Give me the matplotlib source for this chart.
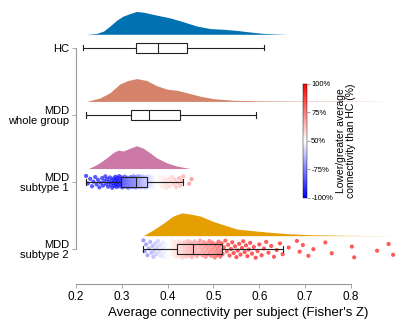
import numpy as np
import matplotlib
matplotlib.use('Agg')
import matplotlib.pyplot as plt
from matplotlib import colors, cm

plt.rcParams['font.family'] = ['Liberation Sans', 'DejaVu Sans']

groups = ['HC', 'MDD\nwhole group', 'MDD\nsubtype 1', 'MDD\nsubtype 2']
group_colors = ['#0072B2', '#D5836A', '#CC79A7', '#E69F00']

# box stats: whisker low, q1, median, q3, whisker high
box_hc = [0.215, 0.331, 0.378, 0.443, 0.610]
box_mdd = [0.222, 0.319, 0.360, 0.427, 0.592]
box_sub1 = [0.222, 0.298, 0.331, 0.356, 0.434]
box_sub2 = [0.347, 0.420, 0.455, 0.518, 0.651]

# density outlines (x, height relative to the peak)
dens_hc_x = [0.223, 0.245, 0.260, 0.274, 0.289, 0.303, 0.318, 0.332, 0.347, 0.376, 0.405,
             0.434, 0.464, 0.493, 0.522, 0.551, 0.580, 0.609, 0.638, 0.663]
dens_hc_y = [0.0, 0.04, 0.14, 0.36, 0.62, 0.80, 0.91, 1.0, 0.97, 0.84, 0.72,
             0.55, 0.36, 0.25, 0.22, 0.17, 0.10, 0.04, 0.015, 0.0]
dens_mdd_x = [0.223, 0.252, 0.274, 0.296, 0.314, 0.332, 0.354, 0.376, 0.398, 0.420, 0.442,
              0.471, 0.500, 0.544, 0.602, 0.700, 0.800, 0.890]
dens_mdd_y = [0.0, 0.15, 0.38, 0.77, 0.92, 1.0, 0.92, 0.69, 0.54, 0.49, 0.38,
              0.23, 0.12, 0.05, 0.025, 0.015, 0.01, 0.0]
dens_sub1_x = [0.227, 0.240, 0.252, 0.267, 0.281, 0.292, 0.303, 0.318, 0.332, 0.347, 0.362,
               0.376, 0.398, 0.420, 0.449]
dens_sub1_y = [0.0, 0.12, 0.26, 0.47, 0.70, 0.81, 0.77, 0.89, 1.0, 0.89, 0.68,
               0.47, 0.25, 0.11, 0.0]
dens_sub2_x = [0.347, 0.369, 0.391, 0.412, 0.431, 0.449, 0.471, 0.500, 0.529, 0.551, 0.580,
               0.616, 0.660, 0.711, 0.798, 0.892]
dens_sub2_y = [0.0, 0.26, 0.55, 0.86, 1.0, 0.95, 0.86, 0.62, 0.43, 0.29, 0.23,
               0.16, 0.09, 0.04, 0.013, 0.0]

# individual subjects (Fisher's Z)
pts_sub1 = [0.222, 0.226, 0.231, 0.235, 0.238, 0.242, 0.245, 0.248, 0.251, 0.254, 0.257, 0.259,
            0.262, 0.264, 0.266, 0.268, 0.270, 0.272, 0.274, 0.276, 0.278, 0.279, 0.281, 0.282,
            0.284, 0.285, 0.286, 0.287, 0.288, 0.289, 0.290, 0.291, 0.292, 0.293, 0.294, 0.295,
            0.296, 0.296, 0.297, 0.298,
            0.299, 0.300, 0.301, 0.302, 0.303, 0.304, 0.305, 0.306, 0.307, 0.308, 0.309, 0.310,
            0.311, 0.312, 0.313, 0.314, 0.315, 0.316, 0.317, 0.318, 0.319, 0.320, 0.321, 0.322,
            0.322, 0.323, 0.324, 0.325, 0.325, 0.326, 0.327, 0.327, 0.328, 0.328, 0.329, 0.329,
            0.330, 0.330, 0.331, 0.331,
            0.332, 0.332, 0.333, 0.333, 0.334, 0.334, 0.335, 0.335, 0.336, 0.337, 0.337, 0.338,
            0.339, 0.339, 0.340, 0.341, 0.341, 0.342, 0.343, 0.343, 0.344, 0.345, 0.345, 0.346,
            0.347, 0.347, 0.348, 0.349, 0.349, 0.350, 0.351, 0.351, 0.352, 0.353, 0.353, 0.354,
            0.355, 0.355, 0.356, 0.356,
            0.357, 0.358, 0.359, 0.360, 0.362, 0.363, 0.364, 0.366, 0.367, 0.369, 0.370, 0.372,
            0.374, 0.375, 0.377, 0.379, 0.381, 0.383, 0.385, 0.387, 0.389, 0.391, 0.393, 0.395,
            0.397, 0.399, 0.402, 0.404, 0.407, 0.410, 0.413, 0.416, 0.419, 0.422, 0.425, 0.428,
            0.431, 0.434, 0.447, 0.452]
pts_sub2 = [0.347, 0.350, 0.353, 0.356, 0.359, 0.362, 0.365, 0.367, 0.369, 0.371, 0.373, 0.375,
            0.377, 0.379, 0.381, 0.383, 0.385, 0.387, 0.389, 0.390, 0.392, 0.393, 0.395, 0.396,
            0.398, 0.399, 0.401, 0.402, 0.403, 0.405, 0.406, 0.407, 0.408, 0.410, 0.411, 0.412,
            0.413, 0.414, 0.415, 0.416, 0.417, 0.418, 0.419, 0.420,
            0.421, 0.422, 0.423, 0.424, 0.425, 0.426, 0.427, 0.428, 0.429, 0.430, 0.431, 0.432,
            0.433, 0.434, 0.435, 0.436, 0.437, 0.438, 0.439, 0.440, 0.441, 0.442, 0.443, 0.444,
            0.445, 0.446, 0.447, 0.448, 0.449, 0.450, 0.451, 0.452, 0.453, 0.454, 0.455,
            0.456, 0.458, 0.459, 0.461, 0.462, 0.464, 0.465, 0.467, 0.468, 0.470, 0.471, 0.473,
            0.474, 0.476, 0.477, 0.479, 0.480, 0.482, 0.483, 0.485, 0.486, 0.488, 0.489, 0.491,
            0.492, 0.494, 0.495, 0.497, 0.498, 0.500, 0.502, 0.503, 0.505, 0.506, 0.508, 0.509,
            0.511, 0.512, 0.514, 0.515, 0.517, 0.518,
            0.520, 0.523, 0.526, 0.529, 0.532, 0.535, 0.538, 0.541, 0.544, 0.547, 0.550, 0.553,
            0.556, 0.559, 0.562, 0.565, 0.568, 0.571, 0.574, 0.577, 0.580, 0.584, 0.588, 0.592,
            0.596, 0.600, 0.605, 0.610, 0.615, 0.620, 0.626, 0.632, 0.638, 0.645, 0.651,
            0.664, 0.682, 0.688, 0.695, 0.707, 0.718, 0.744, 0.758, 0.802, 0.807, 0.857, 0.882,
            0.892]

x_ticks = [0.2, 0.3, 0.4, 0.5, 0.6, 0.7, 0.8]
cbar_ticklabels = ['-100%', '-75%', '50%', '75%', '100%']
xlabel = "Average connectivity per subject (Fisher's Z)"
cbar_label = 'Lower/greater average\nconnectivity than HC (%)'


def main():
    fig = plt.figure(figsize=(4.0, 3.24), dpi=100)
    ax = fig.add_axes([0.19, 0.1235, 0.81, 0.8765])

    boxes = [box_hc, box_mdd, box_sub1, box_sub2]
    dens = [(dens_hc_x, dens_hc_y), (dens_mdd_x, dens_mdd_y),
            (dens_sub1_x, dens_sub1_y), (dens_sub2_x, dens_sub2_y)]

    # clouds
    for k, (dx, dy) in enumerate(dens):
        base = k - 0.2
        ax.fill_between(dx, base, base - 0.34 * np.array(dy), color=group_colors[k],
                        lw=0, zorder=1)

    # rain (colored by lower/greater than HC)
    cmap = plt.get_cmap('bwr')
    for k, pts, center, spread in [(2, pts_sub1, 0.375, 0.09), (3, pts_sub2, 0.40, 0.13)]:
        pts = np.array(pts)
        jit = ((np.arange(len(pts)) * 0.61803) % 1 - 0.5) * 2 * spread
        norm = colors.TwoSlopeNorm(vmin=center - 0.09, vcenter=center, vmax=center + 0.14)
        ax.scatter(pts, k + jit, s=9, c=cmap(norm(pts)), alpha=0.65, lw=0, zorder=2)

    # boxes
    stats = []
    for b in boxes:
        stats.append(dict(whislo=b[0], q1=b[1], med=b[2], q3=b[3], whishi=b[4], fliers=[]))
    lp = dict(color='#222222', lw=0.8)
    ax.bxp(stats[:2], positions=[0, 1], orientation='horizontal', widths=0.15,
           patch_artist=True, showfliers=False,
           boxprops=dict(facecolor='white', edgecolor='#222222', lw=0.8),
           medianprops=lp, whiskerprops=lp, capprops=lp, capwidths=0.08, zorder=3)
    ax.bxp(stats[2:], positions=[2, 3], orientation='horizontal', widths=0.15,
           patch_artist=True, showfliers=False,
           boxprops=dict(facecolor=(1, 1, 1, 0.15), edgecolor='#222222', lw=0.8),
           medianprops=lp, whiskerprops=lp, capprops=lp, capwidths=0.08, zorder=3)

    ax.set_ylim(3.52, -0.711)
    ax.set_xlim(0.2, 0.907)
    ax.set_yticks(range(4))
    ax.set_yticklabels(groups, fontsize=8, linespacing=1.05)
    ax.set_xticks(x_ticks)
    ax.set_xticklabels([f'{t:.1f}' for t in x_ticks], fontsize=8.5)
    ax.set_xlabel(xlabel, fontsize=9.5, labelpad=3)
    for s in ['top', 'right']:
        ax.spines[s].set_visible(False)
    ax.spines['left'].set_bounds(0, 3)
    ax.spines['bottom'].set_bounds(0.2, 0.8)
    ax.spines['left'].set_color('#999999')
    ax.spines['bottom'].set_color('#999999')
    ax.spines['left'].set_linewidth(0.8)
    ax.spines['bottom'].set_linewidth(0.8)
    ax.tick_params(axis='both', length=3, width=0.6, color='#999999', pad=2)

    cax = fig.add_axes([0.7575, 0.389, 0.01, 0.352])
    sm = cm.ScalarMappable(norm=colors.Normalize(0, 1), cmap='bwr')
    cb = fig.colorbar(sm, cax=cax)
    cb.set_ticks([0, 0.25, 0.5, 0.75, 1])
    cb.set_ticklabels(cbar_ticklabels)
    cax.tick_params(labelsize=5.5, length=2, width=0.5, pad=1, color='#777777')
    cb.outline.set_linewidth(0.3)
    cb.set_label(cbar_label, fontsize=7.5, labelpad=2, linespacing=1.0)

    fig.savefig('out.png', dpi=100)


if __name__ == '__main__':
    main()
